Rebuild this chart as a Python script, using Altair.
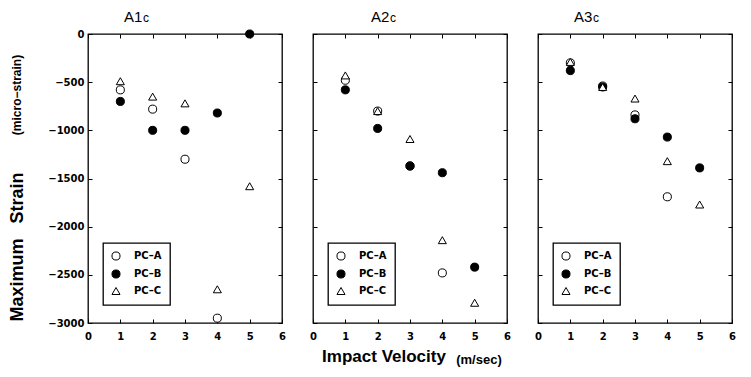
import altair as alt
import pandas as pd

# ---- data ----
panels = ["A1", "A2", "A3"]
subscript = "c"
series = ["PC-A", "PC-B", "PC-C"]
velocity = [1, 2, 3, 4, 5]

# A1c
a1_pca = [-580, -780, -1300, -2950, None]
a1_pcb = [-700, -1000, -1000, -820, 0]
a1_pcc = [-490, -650, -720, -2650, -1580]
# A2c
a2_pca = [-480, -800, -1370, -2480, None]
a2_pcb = [-580, -980, -1370, -1440, -2420]
a2_pcc = [-430, -800, -1090, -2140, -2790]
# A3c
a3_pca = [-300, -540, -840, -1690, None]
a3_pcb = [-380, -550, -880, -1070, -1390]
a3_pcc = [-290, -550, -670, -1320, -1770]

x_ticks = [0, 1, 2, 3, 4, 5, 6]
y_ticks = [0, -500, -1000, -1500, -2000, -2500, -3000]

ylabel_words = ["Maximum", "Strain"]
ylabel_unit = "(micro\u2212strain)"
xlabel_main = "Impact Velocity"
xlabel_unit = "(m/sec)"

W, H = 194, 289
LABEL_FONT = "DejaVu Sans"
TITLE_FONT = "Liberation Sans"


def make_df(pa, pb, pc):
    rows = []
    for name, vals in zip(series, [pa, pb, pc]):
        for v, s in zip(velocity, vals):
            if s is not None:
                rows.append({"velocity": v, "strain": s, "series": name})
    return pd.DataFrame(rows)


def panel(df, idx, show_ylabels):
    xs = alt.Scale(domain=[0, 6], nice=False, zero=False)
    ys = alt.Scale(domain=[-3000, 0], nice=False, zero=False)
    shape_scale = alt.Scale(domain=series, range=["circle", "circle", "triangle-up"])
    fill_scale = alt.Scale(domain=series, range=["white", "black", "white"])
    stroke_scale = alt.Scale(domain=series, range=["black", "black", "black"])

    legend = alt.Legend(
        orient="none", legendX=15, legendY=209, title=None,
        strokeColor="black", padding=8, fillColor="white",
        labelFont=LABEL_FONT, labelFontWeight="bold", labelFontSize=10,
        labelExpr="replace(datum.label, '-', '\u2013')",
        labelOffset=13, rowPadding=4, symbolSize=65,
        symbolStrokeColor="black", symbolStrokeWidth=1,
    )

    left_axis = alt.Axis(
        orient="left", values=y_ticks, offset=-4, tickSize=4, domain=False,
        grid=False, labels=show_ylabels, labelPadding=4, title=None, format="d",
        labelExpr="replace(datum.label, '-', '\u2212')",
        labelFont=LABEL_FONT, labelFontWeight="bold", labelFontSize=10,
        labelColor="black", tickColor="black",
    )
    bottom_axis = alt.Axis(
        orient="bottom", values=x_ticks, offset=-4, tickSize=4, domain=False,
        grid=False, labelPadding=8, title=None, labelFlush=False, format="d",
        labelFont=LABEL_FONT, labelFontWeight="bold", labelFontSize=10,
        labelColor="black", tickColor="black",
    )
    right_axis = alt.Axis(
        orient="right", values=y_ticks, offset=-4, tickSize=4, domain=False,
        grid=False, labels=False, title=None, tickColor="black",
    )
    top_axis = alt.Axis(
        orient="top", values=x_ticks, offset=-4, tickSize=4, domain=False,
        grid=False, labels=False, title=None, tickColor="black",
    )

    pts = alt.Chart(df).mark_point(
        filled=True, strokeWidth=1, size=65, opacity=1, clip=False
    ).encode(
        x=alt.X("velocity:Q", scale=xs, axis=bottom_axis),
        y=alt.Y("strain:Q", scale=ys, axis=left_axis),
        shape=alt.Shape("series:N", scale=shape_scale, legend=legend),
        fill=alt.Fill("series:N", scale=fill_scale, legend=legend),
        stroke=alt.Stroke("series:N", scale=stroke_scale, legend=legend),
    )
    ghost = alt.Chart(df).mark_point(opacity=0).encode(
        x=alt.X("velocity:Q", scale=xs, axis=top_axis),
        y=alt.Y("strain:Q", scale=ys, axis=right_axis),
    )

    title_x = [36, 58, 36][idx]
    t_main = alt.Chart(pd.DataFrame({"t": [panels[idx]]})).mark_text(
        align="left", baseline="alphabetic", font="Liberation Sans", fontSize=15,
        color="black",
    ).encode(x=alt.value(title_x), y=alt.value(-12), text="t:N")
    t_sub = alt.Chart(pd.DataFrame({"t": [subscript]})).mark_text(
        align="left", baseline="alphabetic", font="Liberation Sans", fontSize=12,
        color="black",
    ).encode(x=alt.value(title_x + 19), y=alt.value(-12), text="t:N")

    layers = [pts, ghost, t_main, t_sub]

    if idx == 0:
        for word, yc in zip(ylabel_words, [280, 198]):
            layers.append(
                alt.Chart(pd.DataFrame({"t": [word]})).mark_text(
                    angle=270, align="center", baseline="middle", font=TITLE_FONT,
                    fontWeight="bold", fontSize=18, color="black",
                ).encode(x=alt.value(-70), y=alt.value(yc - 34), text="t:N")
            )
        layers.append(
            alt.Chart(pd.DataFrame({"t": [ylabel_unit]})).mark_text(
                angle=270, align="center", baseline="middle", font="Liberation Sans",
                fontWeight="bold", fontSize=12, color="black",
            ).encode(x=alt.value(-71), y=alt.value(61), text="t:N")
        )
    if idx == 1:
        layers.append(
            alt.Chart(pd.DataFrame({"t": [xlabel_main]})).mark_text(
                align="center", baseline="alphabetic", font=TITLE_FONT,
                fontWeight="bold", fontSize=17, color="black",
            ).encode(x=alt.value(71), y=alt.value(328), text="t:N")
        )
        layers.append(
            alt.Chart(pd.DataFrame({"t": [xlabel_unit]})).mark_text(
                align="center", baseline="alphabetic", font=TITLE_FONT,
                fontWeight="bold", fontSize=13, color="black",
            ).encode(x=alt.value(166), y=alt.value(330), text="t:N")
        )

    return alt.layer(*layers).resolve_axis(x="independent", y="independent").properties(
        width=W, height=H
    )


dfs = [make_df(a1_pca, a1_pcb, a1_pcc), make_df(a2_pca, a2_pcb, a2_pcc),
       make_df(a3_pca, a3_pcb, a3_pcc)]

chart = alt.hconcat(
    *[panel(d, i, i == 0) for i, d in enumerate(dfs)], spacing=31, bounds="flush"
).resolve_scale(
    shape="independent", fill="independent", stroke="independent"
).resolve_legend(
    shape="independent", fill="independent", stroke="independent"
).configure_view(
    stroke="black", strokeWidth=1.3
).configure_legend(
    strokeWidth=1.3
).properties(
    padding={"left": 8, "top": 9, "right": 5, "bottom": 5}, background="white"
)

chart.save("out.html", embed_options={"renderer": "svg", "actions": False})
